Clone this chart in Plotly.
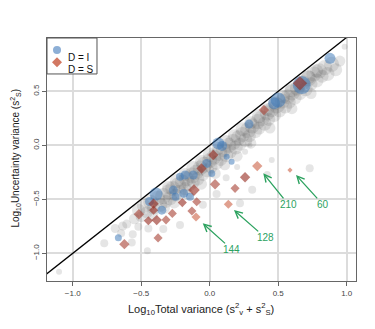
import plotly.graph_objects as go

# ---------------- data ----------------
# grey background cloud (all series)
grey_x = [-0.52,-0.48,-0.46,-0.43,-0.41,-0.38,-0.36,-0.34,-0.32,-0.30,-0.29,-0.27,-0.25,-0.23,-0.22,-0.20,-0.18,-0.17,-0.15,-0.13,
          -0.12,-0.10,-0.09,-0.07,-0.05,-0.04,-0.02,0.00,0.01,0.03,0.05,0.07,0.08,0.10,0.12,0.14,0.15,0.17,0.19,0.21,
          0.22,0.24,0.26,0.28,0.29,0.31,0.33,0.35,0.36,0.38,0.40,0.42,0.43,0.45,0.47,0.49,0.51,0.53,0.55,0.57,
          0.58,0.60,0.62,0.64,0.66,0.68,0.70,0.72,0.74,0.76,0.78,0.80,0.82,0.84,0.86,0.89,0.92,0.95,
          -0.55,-0.50,-0.42,-0.33,-0.26,-0.16,-0.06,0.04,0.11,0.20,0.30,0.44,0.60,0.74,
          -1.10,-0.77,-0.69,-0.635,-0.606,-0.562,-0.521,-0.569,-0.455,-0.448,-0.647,-0.339,-0.217,
          0.294,0.258,0.453,0.73,0.985,0.221,0.31,0.12,0.05,-0.05,0.20,0.42,
          -0.30,-0.24,-0.18,-0.12,-0.06,0.00,0.06,0.12,0.18,0.24,0.30,0.36,0.42,0.48,0.54,0.60,0.66,0.72,0.78]
grey_y = [-0.60,-0.56,-0.62,-0.53,-0.58,-0.49,-0.55,-0.47,-0.52,-0.43,-0.49,-0.40,-0.46,-0.37,-0.43,-0.34,-0.40,-0.31,-0.36,-0.28,
          -0.34,-0.25,-0.31,-0.21,-0.27,-0.18,-0.23,-0.14,-0.20,-0.11,-0.16,-0.07,-0.13,-0.04,-0.09,0.00,-0.06,0.03,-0.02,0.07,
          0.01,0.10,0.05,0.14,0.09,0.18,0.13,0.22,0.16,0.25,0.20,0.30,0.24,0.33,0.28,0.37,0.32,0.41,0.36,0.45,
          0.40,0.49,0.44,0.53,0.48,0.58,0.52,0.62,0.57,0.66,0.60,0.69,0.64,0.72,0.66,0.75,0.70,0.78,
          -0.68,-0.66,-0.64,-0.58,-0.53,-0.45,-0.36,-0.26,-0.18,-0.10,0.02,0.16,0.34,0.48,
          -1.17,-0.907,-0.77,-0.747,-0.729,-0.824,-0.754,-0.90,-0.976,-0.769,-0.815,-0.775,-0.738,
          0.003,-0.06,-0.136,-0.213,0.913,-0.537,-0.41,-0.30,-0.45,-0.55,-0.20,-0.27,
          -0.39,-0.33,-0.27,-0.21,-0.15,-0.09,-0.03,0.03,0.09,0.15,0.21,0.27,0.33,0.39,0.45,0.51,0.57,0.63,0.69]
grey_s = [13,14,12,15,13,15,14,16,13,15,14,15,13,16,14,15,13,15,14,16,
          13,15,14,15,13,16,14,15,13,15,14,16,13,15,14,15,13,16,14,15,
          13,15,14,16,13,15,14,15,13,16,14,15,13,15,14,16,13,15,14,15,
          13,16,14,15,13,15,14,16,13,15,14,15,13,15,14,15,13,11,
          11,11,12,11,12,11,11,11,11,11,11,11,11,11,
          6,8,9,9,9,8,8,8,7,8,8,8,8,
          5,6,6,8,6,8,8,7,8,8,6,7,
          13,14,13,14,13,14,13,14,13,14,13,14,13,14,13,14,13,14,13]

# D = I (blue circles)
i_x = [0.878,0.672,0.50,0.47,0.287,0.063,0.09,0.124,0.16,-0.022,0.015,-0.18,-0.12,-0.217,-0.266,-0.19,-0.144,-0.25,-0.392,-0.44,-0.35,-0.667]
i_y = [0.806,0.558,0.42,0.39,0.197,0.018,-0.005,-0.105,-0.152,-0.167,-0.26,-0.275,-0.275,-0.29,-0.414,-0.445,-0.476,-0.476,-0.451,-0.52,-0.60,-0.855]
i_s = [11,18,15,12,9,12,10,6,6,9,7,9,9,8,9,9,8,8,13,9,9,7]

# D = S (red diamonds)
s_x = [0.659,0.396,0.026,-0.06,0.039,-0.115,-0.095,-0.20,-0.13,-0.10,0.136,0.347,0.586,0.258,0.185,-0.41,-0.41,-0.517,-0.448,-0.387,-0.319,-0.273,-0.377,-0.623]
s_y = [0.574,0.327,-0.09,-0.215,-0.36,-0.414,-0.522,-0.53,-0.608,-0.664,-0.546,-0.192,-0.229,-0.296,-0.398,-0.54,-0.60,-0.638,-0.698,-0.692,-0.69,-0.63,-0.857,-0.915]
s_s = [11,8,8,8,8,9,7,7,7,7,7,8,4,8,7,8,7,8,7,8,7,7,7,8]
s_shade = [0,1,0,0,1,0,1,0,1,2,2,2,2,0,1,0,0,1,0,0,1,1,1,1]

# labelled outliers: label, arrow head (x,y), label pos (x,y)
lab_text = ["144","128","210","60"]
lab_head_x = [-0.051,0.177,0.391,0.63]
lab_head_y = [-0.722,-0.599,-0.259,-0.275]
lab_x = [0.161,0.404,0.574,0.825]
lab_y = [-0.963,-0.852,-0.546,-0.546]

x_ticks = [-1.0,-0.5,0.0,0.5,1.0]
y_ticks = [-1.0,-0.5,0.0,0.5]
diag = [-1.5,1.5]

# ---------------- styles ----------------
shade_cols = ["rgba(150,42,32,0.87)","rgba(168,66,52,0.87)","rgba(206,104,78,0.9)"]
blue = "rgba(62,122,184,0.75)"
green = "#2ca25f"
FONT = "Liberation Sans, Arial, sans-serif"

fig = go.Figure()
fig.add_trace(go.Scatter(x=grey_x, y=grey_y, mode="markers", showlegend=False, hoverinfo="skip",
                         marker=dict(size=grey_s, color="rgba(85,85,85,0.22)", line=dict(width=0))))
fig.add_trace(go.Scatter(x=diag, y=diag, mode="lines", showlegend=False,
                         line=dict(color="black", width=1.3)))
fig.add_trace(go.Scatter(x=i_x, y=i_y, mode="markers", name="D = I", showlegend=False,
                         marker=dict(size=i_s, color=blue, line=dict(width=0))))
fig.add_trace(go.Scatter(x=s_x, y=s_y, mode="markers", name="D = S", showlegend=False,
                         marker=dict(size=s_s, symbol="diamond", color=[shade_cols[k] for k in s_shade],
                                     line=dict(width=0))))

for t, hx, hy, lx, ly in zip(lab_text, lab_head_x, lab_head_y, lab_x, lab_y):
    fig.add_annotation(x=hx, y=hy, ax=lx, ay=ly, xref="x", yref="y", axref="x", ayref="y",
                       text=t, showarrow=True, arrowhead=5, arrowsize=1.1, arrowwidth=1.3,
                       arrowcolor=green, standoff=0, startstandoff=0, borderpad=0,
                       font=dict(family=FONT, size=10, color=green))

# axis titles
fig.add_annotation(x=0.498, y=-0.115, xref="paper", yref="paper", yanchor="middle",
                   text="Log<sub>10</sub>Total variance (s<sup>2</sup><sub>v</sub> + s<sup>2</sup><sub>S</sub>)",
                   showarrow=False, font=dict(family=FONT, size=11, color="#222"))
fig.add_annotation(x=-0.105, y=0.506, xref="paper", yref="paper", textangle=-90, xanchor="center",
                   text="Log<sub>10</sub>Uncertainty variance (s<sup>2</sup><sub>S</sub>)",
                   showarrow=False, font=dict(family=FONT, size=10, color="#222"))

# legend (manual box)
fig.add_shape(type="rect", xref="paper", yref="paper", x0=0, x1=0.1618, y0=0.852, y1=1,
              line=dict(color="#555", width=1), fillcolor="white", layer="above")
fig.add_shape(type="circle", xref="paper", yref="paper", xsizemode="pixel", ysizemode="pixel",
              xanchor=0.0324, yanchor=0.951, x0=-4, x1=4, y0=-4, y1=4,
              fillcolor="#8dafd6", line=dict(width=0), layer="above")
fig.add_shape(type="path", xref="paper", yref="paper", xsizemode="pixel", ysizemode="pixel",
              xanchor=0.0324, yanchor=0.900, path="M 0,-5 L 5,0 L 0,5 L -5,0 Z",
              fillcolor="#d27862", line=dict(width=0), layer="above")
fig.add_annotation(x=0.0615, y=0.951, xref="paper", yref="paper", xanchor="left", text="D = I",
                   showarrow=False, font=dict(family=FONT, size=10, color="#111"))
fig.add_annotation(x=0.0615, y=0.900, xref="paper", yref="paper", xanchor="left", text="D = S",
                   showarrow=False, font=dict(family=FONT, size=10, color="#111"))

axis_common = dict(showline=True, mirror=True, linecolor="#666", linewidth=1,
                   showgrid=True, gridcolor="#dcdcdc", gridwidth=1.5, zeroline=False,
                   ticks="outside", ticklen=4, tickcolor="#666", tickwidth=1,
                   tickfont=dict(family=FONT, size=8, color="#444"))
fig.update_xaxes(range=[-1.188, 1.068], tickvals=x_ticks, ticktext=["\u22121.0","\u22120.5","0.0","0.5","1.0"],
                 **axis_common)
fig.update_yaxes(range=[-1.256, 0.994], tickvals=y_ticks, ticktext=["\u22121.0","\u22120.5","0.0","0.5"],
                 tickangle=-90, **axis_common)

# page body has an 8px default margin, so offset the plot area accordingly
fig.update_layout(width=375, height=329, margin=dict(l=39, r=27, t=30, b=56, autoexpand=False),
                  plot_bgcolor="white", paper_bgcolor="white", showlegend=False,
                  font=dict(family=FONT))
fig.write_html("out.html")
